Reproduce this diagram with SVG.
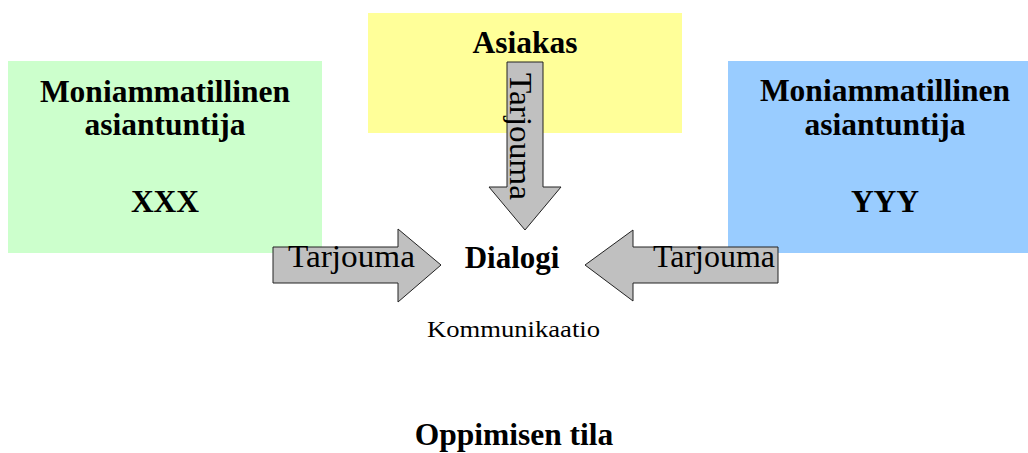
<svg xmlns="http://www.w3.org/2000/svg" width="1028" height="453" viewBox="0 0 1028 453">
<style>
.box{stroke:none}
.arrow{fill:#c0c0c0;stroke:#222;stroke-width:1}
.h{font-family:"Liberation Serif",serif;font-weight:bold;font-size:31.5px;fill:#000;text-anchor:middle}
.t{font-family:"Liberation Serif",serif;font-size:32px;fill:#000}
.s{font-family:"Liberation Serif",serif;font-size:23px;fill:#000}
</style>
<rect width="1028" height="453" fill="#fff"/>
<g id="node-xxx">
<rect class="box" x="8" y="61" width="314" height="192" fill="#ccffcc"/>
<text class="h" x="165" y="102">Moniammatillinen</text>
<text class="h" x="165" y="135">asiantuntija</text>
<text class="h" x="165" y="212">XXX</text>
</g>
<g id="node-asiakas">
<rect class="box" x="368" y="13" width="314" height="120" fill="#ffff99"/>
<text class="h" x="525" y="53">Asiakas</text>
</g>
<g id="node-yyy">
<rect class="box" x="728" y="61" width="302" height="192" fill="#99ccff"/>
<text class="h" x="885" y="101">Moniammatillinen</text>
<text class="h" x="885" y="135">asiantuntija</text>
<text class="h" x="885" y="212">YYY</text>
</g>
<g id="connectors">
<g id="arrow-top">
<polygon class="arrow" points="507,62 543,62 543,187 561,187 525,230 489,187 507,187"/>
<text class="t" transform="translate(510,73) rotate(90)" textLength="127" lengthAdjust="spacingAndGlyphs">Tarjouma</text>
</g>
<g id="arrow-left">
<polygon class="arrow" points="273,247 398,247 398,229 441,265 398,302 398,283 273,283"/>
<text class="t" x="288" y="267" textLength="127" lengthAdjust="spacingAndGlyphs">Tarjouma</text>
</g>
<g id="arrow-right">
<polygon class="arrow" points="778,247 633,247 633,230 585,265 633,301 633,283 778,283"/>
<text class="t" x="653" y="267" textLength="122" lengthAdjust="spacingAndGlyphs">Tarjouma</text>
</g>
</g>
<g id="node-dialogi">
<text class="h" x="512" y="268" style="font-size:31px">Dialogi</text>
<text class="s" x="427" y="337" textLength="173" lengthAdjust="spacingAndGlyphs">Kommunikaatio</text>
</g>
<g id="node-oppiminen">
<text class="h" x="514" y="445">Oppimisen tila</text>
</g>
</svg>
